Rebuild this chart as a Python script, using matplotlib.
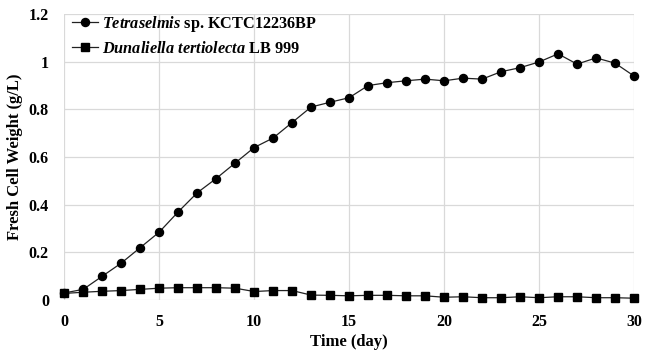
import matplotlib.pyplot as plt
import numpy as np

plt.rcParams['font.family'] = 'Liberation Serif'
plt.rcParams['font.weight'] = 'bold'
plt.rcParams['mathtext.fontset'] = 'custom'
plt.rcParams['mathtext.it'] = 'Liberation Serif:italic:bold'
plt.rcParams['mathtext.rm'] = 'Liberation Serif:bold'

days = np.arange(0, 31)
tetra = [0.03, 0.045, 0.10, 0.155, 0.22, 0.285, 0.37, 0.45, 0.51, 0.575,
         0.64, 0.68, 0.745, 0.81, 0.83, 0.849, 0.90, 0.912, 0.92, 0.927,
         0.92, 0.931, 0.927, 0.958, 0.975, 0.999, 1.033, 0.99, 1.016, 0.994, 0.94]
dunal = [0.028, 0.033, 0.037, 0.040, 0.045, 0.050, 0.052, 0.052, 0.052, 0.050,
         0.036, 0.040, 0.040, 0.021, 0.020, 0.018, 0.020, 0.020, 0.018, 0.018,
         0.012, 0.014, 0.010, 0.010, 0.014, 0.010, 0.014, 0.014, 0.010, 0.010, 0.008]

fig = plt.figure(figsize=(6.55, 3.51), dpi=100)
ax = fig.add_axes([0.098, 0.145, 0.87, 0.815])

ax.plot(days, tetra, '-o', color='#222222', lw=0.9, markersize=5.8,
        markerfacecolor='black', markeredgecolor='black', clip_on=False,
        label=r'$\mathit{Tetraselmis}$ sp. KCTC12236BP')
ax.plot(days, dunal, '-s', color='#222222', lw=0.9, markersize=5.2,
        markerfacecolor='black', markeredgecolor='black', clip_on=False,
        label=r'$\mathit{Dunaliella\ tertiolecta}$ LB 999')

ax.set_xlim(0, 30)
ax.set_ylim(0, 1.2)
ax.set_xticks([0, 5, 10, 15, 20, 25, 30])
ax.set_yticks([0, 0.2, 0.4, 0.6, 0.8, 1.0, 1.2])
ax.set_yticklabels(['0', '0.2', '0.4', '0.6', '0.8', '1', '1.2'])
ax.tick_params(length=0, labelsize=11.5)
ax.tick_params(axis='x', pad=10)
ax.tick_params(axis='y', pad=11)

for s in ax.spines.values():
    s.set_visible(False)
ax.grid(True, color='#d9d9d9', lw=0.9)
ax.set_axisbelow(True)

ax.set_xlabel('Time (day)', fontsize=12, fontweight='bold', labelpad=3)
ax.set_ylabel('Fresh Cell Weight (g/L)', fontsize=12, fontweight='bold', labelpad=4)

ax.legend(loc='upper left', frameon=False, fontsize=11.7, handlelength=1.6,
          handletextpad=0.2, borderaxespad=0.1, labelspacing=0.45,
          bbox_to_anchor=(0.0, 1.03))

fig.savefig('out.png', dpi=100)
